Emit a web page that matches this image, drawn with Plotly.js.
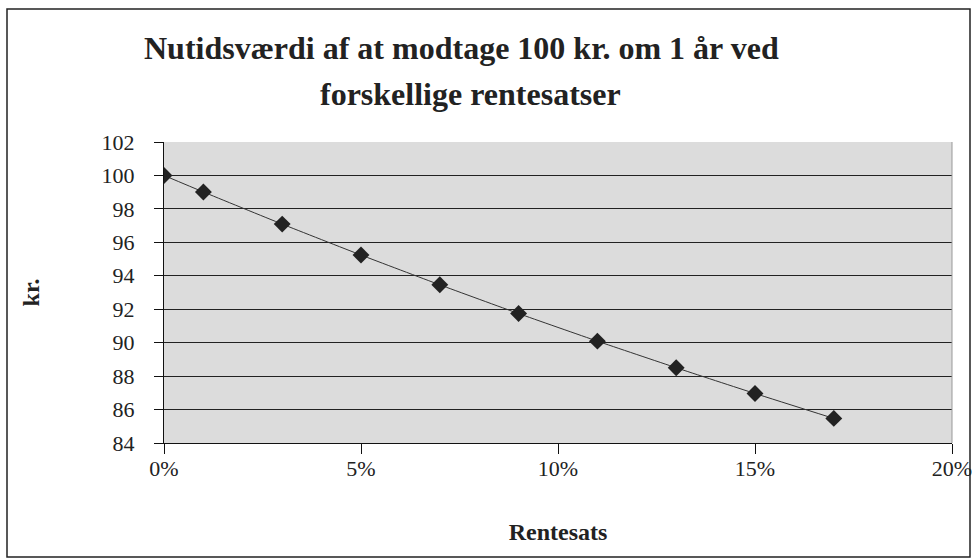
<!DOCTYPE html>
<html>
<head>
<meta charset="utf-8">
<script src="https://cdn.plot.ly/plotly-3.0.1.min.js"></script>
<style>
html,body{margin:0;padding:0;background:#fff;}
#chart{width:978px;height:558px;}
</style>
</head>
<body>
<div id="chart"></div>
<script>
const rates = [0, 0.01, 0.03, 0.05, 0.07, 0.09, 0.11, 0.13, 0.15, 0.17];
const values = [100, 99.01, 97.09, 95.24, 93.46, 91.74, 90.09, 88.50, 86.96, 85.47];
const titleLine1 = "Nutidsværdi af at modtage 100 kr. om 1 år ved";
const titleLine2 = "forskellige rentesatser";
const xTitle = "Rentesats";
const yTitle = "kr.";

const serif = "Liberation Serif, Times New Roman, serif";

const trace = {
  x: rates,
  y: values,
  type: "scatter",
  mode: "lines+markers",
  line: {color: "#333333", width: 1, shape: "spline", smoothing: 0.5},
  marker: {symbol: "diamond", size: 13, color: "#222222"},
  hoverinfo: "skip"
};

const layout = {
  width: 978,
  height: 558,
  margin: {l: 164, r: 26, t: 142, b: 115},
  paper_bgcolor: "#ffffff",
  plot_bgcolor: "#dcdcdc",
  showlegend: false,
  font: {family: serif, color: "#222222", size: 22},
  annotations: [
    {text: titleLine1, xref: "paper", yref: "paper", x: (461 - 164) / 788, y: (443 - 48) / 301,
     xanchor: "center", yanchor: "middle", showarrow: false,
     font: {family: serif, size: 32, color: "#222222", weight: "bold"}},
    {text: titleLine2, xref: "paper", yref: "paper", x: (470 - 164) / 788, y: (443 - 94) / 301,
     xanchor: "center", yanchor: "middle", showarrow: false,
     font: {family: serif, size: 32, color: "#222222", weight: "bold"}}
  ],
  xaxis: {
    range: [0, 0.2],
    dtick: 0.05,
    tick0: 0,
    tickformat: ".0%",
    showgrid: false,
    zeroline: false,
    showline: true,
    linecolor: "#111111",
    linewidth: 1,
    ticks: "outside",
    ticklen: 10,
    tickcolor: "#111111",
    ticklabelstandoff: -4,
    tickfont: {family: serif, size: 22, color: "#222222"},
    title: {text: xTitle, standoff: 42, font: {family: serif, size: 24, color: "#222222", weight: "bold"}}
  },
  yaxis: {
    range: [84, 102],
    dtick: 2,
    tick0: 84,
    showgrid: true,
    gridcolor: "#222222",
    gridwidth: 1,
    zeroline: false,
    showline: true,
    linecolor: "#111111",
    linewidth: 1,
    ticks: "outside",
    ticklen: 9,
    tickcolor: "#111111",
    ticklabelstandoff: 15,
    tickfont: {family: serif, size: 22, color: "#222222"},
    title: {text: yTitle, standoff: 55, font: {family: serif, size: 24, color: "#222222", weight: "bold"}}
  },
  shapes: [
    {type: "line", xref: "paper", yref: "paper", x0: 1, x1: 1, y0: 0, y1: 1,
     line: {color: "#999999", width: 1}},
    {type: "rect", xref: "paper", yref: "paper",
     x0: (7 - 164) / 788, x1: (970 - 164) / 788,
     y0: (443 - 557) / 301, y1: (443 - 9) / 301,
     line: {color: "#222222", width: 1.5}, layer: "below"}
  ]
};

Plotly.newPlot("chart", [trace], layout, {displayModeBar: false, staticPlot: true});
</script>
</body>
</html>
